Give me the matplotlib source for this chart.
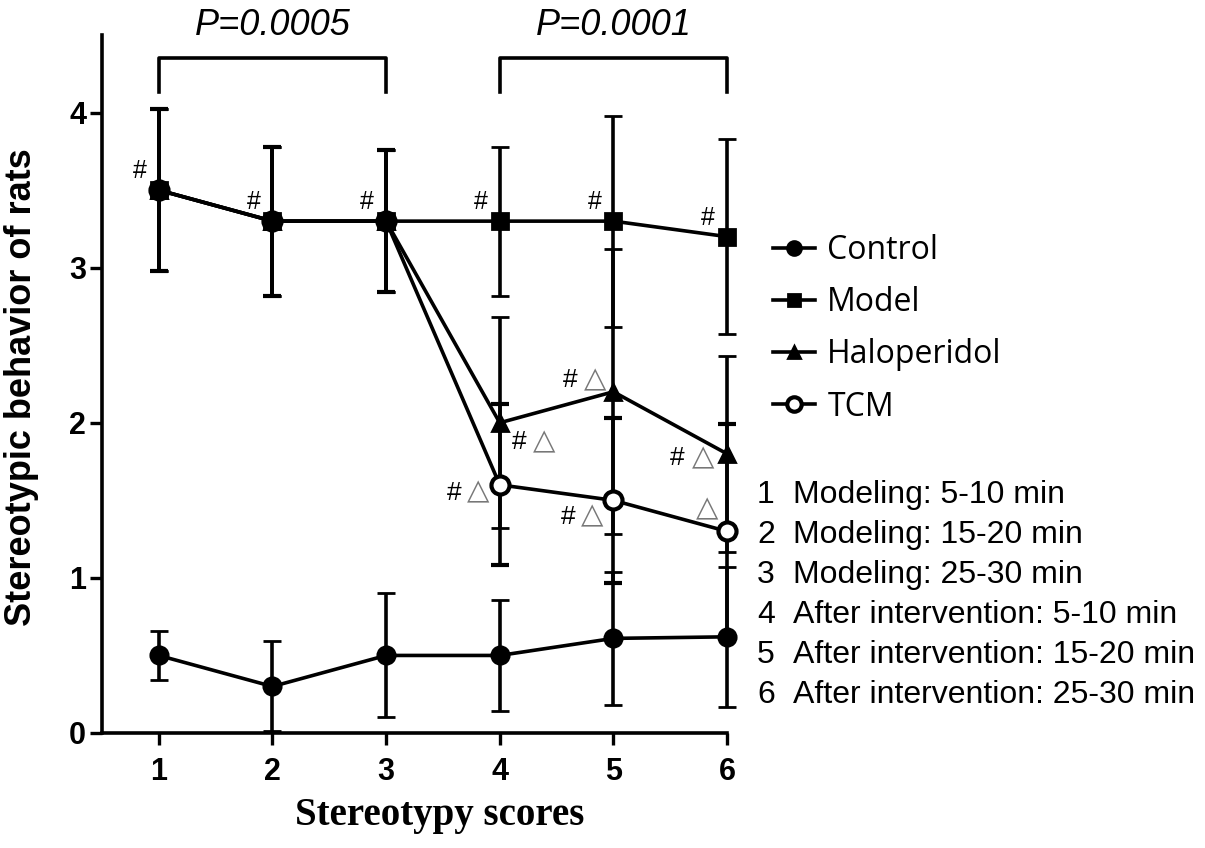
import numpy as np
import matplotlib
matplotlib.use('Agg')
import matplotlib.pyplot as plt

# Data
scores = [1, 2, 3, 4, 5, 6]
controlMean = [0.50, 0.30, 0.50, 0.50, 0.61, 0.62]
controlSd = [0.16, 0.29, 0.40, 0.36, 0.43, 0.45]
modelMean = [3.50, 3.30, 3.30, 3.30, 3.30, 3.20]
modelSd = [0.52, 0.48, 0.46, 0.48, 0.68, 0.63]
haloMean = [3.50, 3.30, 3.30, 2.00, 2.20, 1.80]
haloSd = [0.52, 0.48, 0.46, 0.68, 0.92, 0.63]
tcmMean = [3.50, 3.30, 3.30, 1.60, 1.50, 1.30]
tcmSd = [0.52, 0.48, 0.46, 0.52, 0.53, 0.69]

groupNames = ['Control', 'Model', 'Haloperidol', 'TCM']
timeLabels = ['Modeling: 5-10 min',
              'Modeling: 15-20 min',
              'Modeling: 25-30 min',
              'After intervention: 5-10 min',
              'After intervention: 15-20 min',
              'After intervention: 25-30 min']
pBrackets = [(1, 3, 'P=0.0005'), (4, 6, 'P=0.0001')]

# (score index, offset px of '#', offset px of triangle) for halo / tcm marks
haloMarks = [(3, (19, -19), (44, -19)), (4, (-43, 12), (-18, 12)), (5, (-50, -4), (-24, -4))]
tcmMarks = [(3, (-46, -8), (-22, -7)), (4, (-45, -17), (-21, -15)), (5, None, (-20, 23))]

W, H = 1205, 848
fig = plt.figure(figsize=(W / 100, H / 100), dpi=100)
ax = fig.add_axes([102 / W, 1 - 733 / H, (727 - 102) / W, (733 - 35) / H])

lw = 2.6
def drawSeries(mean, sd, marker, ms, face, mew, label):
    cont = ax.errorbar(scores, mean, yerr=sd, color='k', lw=lw, elinewidth=lw,
                       capsize=6.5, capthick=lw, marker=marker, ms=ms,
                       mfc=face, mec='k', mew=mew, label=label)
    for art in cont.get_children():
        art.set_clip_on(False)
    return cont.lines[0]

hTcm = drawSeries(tcmMean, tcmSd, 'o', 13, 'white', 3, 'TCM')
hHalo = drawSeries(haloMean, haloSd, '^', 11, 'k', 2, 'Haloperidol')
hModel = drawSeries(modelMean, modelSd, 's', 11, 'k', 2, 'Model')
hCtrl = drawSeries(controlMean, controlSd, 'o', 12.5, 'k', 2, 'Control')

ax.set_xlim(0.5, 6)
ax.set_ylim(0, 4.5)
ax.set_xticks(scores)
ax.set_yticks([0, 1, 2, 3, 4])
for side in ['top', 'right']:
    ax.spines[side].set_visible(False)
for side in ['left', 'bottom']:
    ax.spines[side].set_linewidth(2.6)
ax.tick_params(direction='out', length=8.5, width=2.4, pad=3)
for lab in ax.get_xticklabels() + ax.get_yticklabels():
    lab.set_fontfamily('Liberation Sans')
    lab.set_fontweight('bold')
    lab.set_fontsize(22)
ax.tick_params(axis='x', pad=9)

ax.set_ylabel('Stereotypic behavior of rats', fontfamily='Liberation Sans',
              fontweight='bold', fontsize=26)
ax.yaxis.set_label_coords(-0.1, 0.495)
ax.set_xlabel('Stereotypy scores', fontfamily='Liberation Serif',
              fontweight='bold', fontsize=28)
ax.xaxis.set_label_coords(0.54, -0.092)

# significance brackets
for x0, x1, txt in pBrackets:
    ax.plot([x0, x0, x1, x1], [4.13, 4.35, 4.35, 4.13], color='k', lw=lw, clip_on=False)
    ax.text((x0 + x1) / 2, 4.56, txt, ha='center', va='center', fontsize=26,
            fontstyle='italic', fontfamily='Liberation Sans', clip_on=False)

# '#' over the model points
for xi, yi in zip(scores, modelMean):
    ax.annotate('#', (xi, yi), xytext=(-19, 19), textcoords='offset pixels',
                ha='center', va='center', fontsize=18, fontfamily='Liberation Sans')

def markPoints(mean, marks):
    for idx, hashOff, triOff in marks:
        if hashOff is not None:
            ax.annotate('#', (scores[idx], mean[idx]), xytext=hashOff,
                        textcoords='offset pixels', ha='center', va='center',
                        fontsize=19, fontfamily='Liberation Sans')
        ax.annotate('\u25b3', (scores[idx], mean[idx]), xytext=triOff,
                    textcoords='offset pixels', ha='center', va='center',
                    fontsize=21, color='#777777', fontfamily='DejaVu Sans')

markPoints(haloMean, haloMarks)
markPoints(tcmMean, tcmMarks)

leg = ax.legend([hCtrl, hModel, hHalo, hTcm], groupNames, loc='upper left',
                bbox_to_anchor=(773 / W, 1 - 234 / H), bbox_transform=fig.transFigure,
                frameon=False, borderpad=0, borderaxespad=0, handlelength=1.3,
                handletextpad=0.4, labelspacing=0.6, markerscale=0.8,
                prop={'family': 'Open Sans', 'size': 23})

for i, txt in enumerate(timeLabels):
    yc = 1 - (495 + 40 * i) / H
    fig.text(757 / W, yc, str(i + 1), ha='left', va='center', fontsize=23,
             fontfamily='Liberation Sans')
    fig.text(793 / W, yc, txt, ha='left', va='center', fontsize=23,
             fontfamily='Liberation Sans')

fig.savefig('out.png', dpi=100)
